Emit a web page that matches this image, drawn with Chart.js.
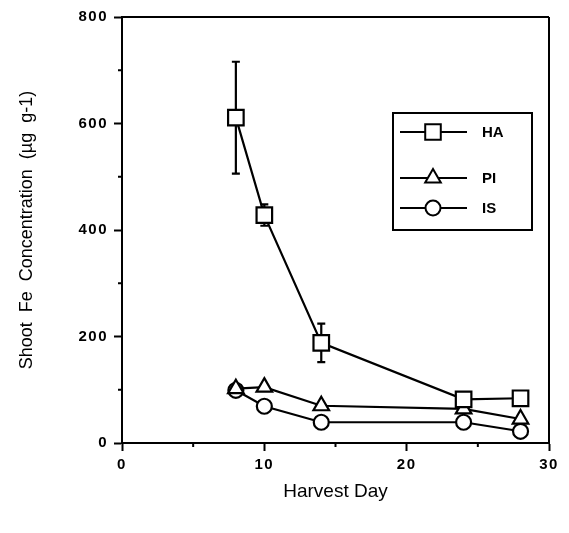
<!DOCTYPE html>
<html>
<head>
<meta charset="utf-8">
<script src="https://cdn.jsdelivr.net/npm/chart.js@4/dist/chart.umd.min.js"></script>
<style>
html,body{margin:0;padding:0;background:#fff;}
#wrap{width:569px;height:533px;}
</style>
</head>
<body>
<div id="wrap"><canvas id="c" width="569" height="533"></canvas></div>
<script>
const harvestDays = [8, 10, 14, 24, 28];
const haValues = [611, 428, 188, 82, 84];
const haErrors = [105, 20, 36, 0, 0];
const piValues = [102, 105, 70, 64, 45];
const isValues = [99, 69, 39, 39, 22];
const seriesNames = ['HA', 'PI', 'IS'];
const seriesStyles = ['rect', 'triangle', 'circle'];
const xTickLabels = [0, 10, 20, 30];
const yTickLabels = [0, 200, 400, 600, 800];

const FONT = "'Liberation Sans', Arial, Helvetica, sans-serif";

function pts(vals){ return harvestDays.map((d,i)=>({x:d, y:vals[i]})); }

const radii = {rect: 11, triangle: 9, circle: 7.5};

const datasets = [haValues, piValues, isValues].map((vals, i) => ({
  label: seriesNames[i],
  data: pts(vals),
  borderColor: '#000',
  borderWidth: 2.2,
  backgroundColor: '#fff',
  pointStyle: seriesStyles[i],
  pointRadius: radii[seriesStyles[i]],
  pointBorderWidth: 2.2,
  pointBackgroundColor: '#fff',
  pointBorderColor: '#000',
  tension: 0,
  fill: false
}));

const framePlugin = {
  id: 'frame',
  beforeDatasetsDraw(chart) {
    const {ctx, chartArea: a, scales} = chart;
    ctx.save();
    ctx.strokeStyle = '#000';
    ctx.lineWidth = 2;
    ctx.beginPath();
    ctx.moveTo(a.left, a.top); ctx.lineTo(a.right, a.top);
    ctx.moveTo(a.right, a.top); ctx.lineTo(a.right, a.bottom);
    ctx.stroke();
    // minor ticks
    ctx.beginPath();
    [100, 300, 500, 700].forEach(v => {
      const y = scales.y.getPixelForValue(v);
      ctx.moveTo(a.left - 4, y); ctx.lineTo(a.left, y);
    });
    [5, 15, 25].forEach(v => {
      const x = scales.x.getPixelForValue(v);
      ctx.moveTo(x, a.bottom); ctx.lineTo(x, a.bottom + 4);
    });
    ctx.stroke();
    // error bars for HA
    ctx.lineWidth = 2.2;
    ctx.beginPath();
    harvestDays.forEach((d, i) => {
      const e = haErrors[i];
      if (!e) return;
      const x = scales.x.getPixelForValue(d);
      const yt = scales.y.getPixelForValue(haValues[i] + e);
      const yb = scales.y.getPixelForValue(haValues[i] - e);
      ctx.moveTo(x, yt); ctx.lineTo(x, yb);
      ctx.moveTo(x - 4, yt); ctx.lineTo(x + 4, yt);
      ctx.moveTo(x - 4, yb); ctx.lineTo(x + 4, yb);
    });
    ctx.stroke();
    ctx.restore();
  },
  afterDatasetsDraw(chart) {
    chart.ctx.letterSpacing = '1.5px';
  },
  afterDraw(chart) {
    const ctx = chart.ctx;
    ctx.letterSpacing = '0px';
    ctx.save();
    // legend box
    const bx = 393, by = 113, bw = 139, bh = 117;
    ctx.strokeStyle = '#000';
    ctx.lineWidth = 2;
    ctx.strokeRect(bx, by, bw, bh);
    const rowsY = [132, 178, 208];
    chart.data.datasets.forEach((ds, i) => {
      const y = rowsY[i];
      ctx.beginPath();
      ctx.lineWidth = 2;
      ctx.moveTo(400, y); ctx.lineTo(467, y);
      ctx.stroke();
      ctx.fillStyle = '#fff';
      ctx.strokeStyle = '#000';
      ctx.lineWidth = 2;
      Chart.helpers.drawPoint(ctx, {pointStyle: ds.pointStyle, radius: ds.pointRadius, rotation: 0, borderWidth: 2}, 433, y);
      ctx.fillStyle = '#000';
      ctx.font = 'bold 15px ' + FONT;
      ctx.textBaseline = 'middle';
      ctx.textAlign = 'left';
      ctx.fillText(ds.label, 482, y + 1);
    });
    ctx.restore();
  }
};

new Chart(document.getElementById('c'), {
  type: 'line',
  data: { datasets },
  options: {
    responsive: false,
    animation: false,
    devicePixelRatio: 1,
    layout: { padding: { left: 0, right: 20, top: 17, bottom: 0 } },
    plugins: { legend: { display: false }, tooltip: { enabled: false } },
    scales: {
      x: {
        type: 'linear',
        min: 0, max: 30,
        afterFit(s) { s.height = 90; },
        border: { display: true, color: '#000', width: 2 },
        grid: {
          drawOnChartArea: false, drawTicks: true, tickLength: 8,
          tickWidth: 2,
          tickColor: c => (xTickLabels.includes(c.tick && c.tick.value) ? '#000' : 'rgba(0,0,0,0)')
        },
        ticks: {
          stepSize: 5, z: 1, padding: 5,
          color: '#000',
          font: { family: FONT, size: 15, weight: 'bold' },
          maxRotation: 0,
          autoSkip: false,
          callback: v => (xTickLabels.includes(v) ? String(v) : '')
        },
        title: {
          display: true, text: 'Harvest Day', color: '#000',
          font: { family: FONT, size: 19 },
          padding: 30
        }
      },
      y: {
        min: 0, max: 800,
        afterFit(s) { s.width = 122; },
        border: { display: true, color: '#000', width: 2 },
        grid: {
          drawOnChartArea: false, drawTicks: true, tickLength: 8,
          tickWidth: 2,
          tickColor: c => (yTickLabels.includes(c.tick && c.tick.value) ? '#000' : 'rgba(0,0,0,0)')
        },
        ticks: {
          stepSize: 100, z: 1, padding: 6,
          color: '#000',
          font: { family: FONT, size: 15, weight: 'bold' },
          autoSkip: false,
          callback: v => (yTickLabels.includes(v) ? String(v) : '')
        },
        title: {
          display: true, text: 'Shoot  Fe  Concentration  (µg  g-1)', color: '#000',
          font: { family: FONT, size: 18 },
          padding: 16
        }
      }
    }
  },
  plugins: [framePlugin]
});
</script>
</body>
</html>
